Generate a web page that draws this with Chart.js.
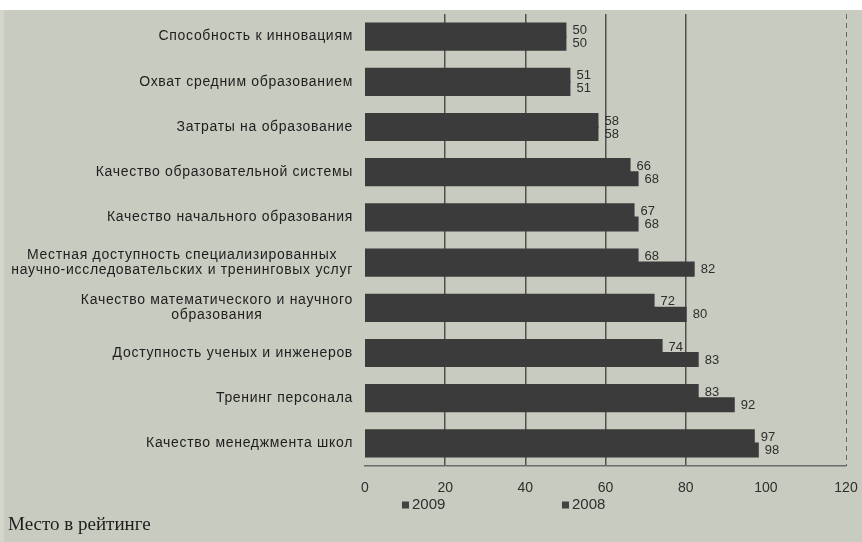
<!DOCTYPE html>
<html>
<head>
<meta charset="utf-8">
<script src="https://cdn.jsdelivr.net/npm/chart.js@4/dist/chart.umd.min.js"></script>
<style>
  html, body { margin: 0; padding: 0; background: #ffffff; }
  #wrap { position: relative; width: 862px; height: 542px; }
  canvas { display: block; }
</style>
</head>
<body>
<div id="wrap"><canvas id="rankChart" width="862" height="542"></canvas></div>
<script>
// категории (сверху вниз)
const categories = [
    "Способность к инновациям",
    "Охват средним образованием",
    "Затраты на образование",
    "Качество образовательной системы",
    "Качество начального образования",
    ["Местная доступность специализированных", "научно-исследовательских и тренинговых услуг"],
    ["Качество математического и научного", "образования"],
    "Доступность ученых и инженеров",
    "Тренинг персонала",
    "Качество менеджмента школ"
];
const rank2009 = [50, 51, 58, 66, 67, 68, 72, 74, 83, 97];
const rank2008 = [50, 51, 58, 68, 68, 82, 80, 83, 92, 98];
const xTicks = [0, 20, 40, 60, 80, 100, 120];
const seriesNames = ["2009", "2008"];
const footerText = "Место в рейтинге";

const BG = "#c8cbc0";
const BAR = "#3b3b3b";
const TEXT = "#1e1e1e";

// фон, подписи категорий, значения, легенда
const decorPlugin = {
    id: "decor",
    beforeDraw(chart) {
        const { ctx, width, height } = chart;
        ctx.save();
        ctx.fillStyle = "#ffffff";
        ctx.fillRect(0, 0, width, height);
        ctx.fillStyle = BG;
        ctx.fillRect(0, 10, width, height - 10);
        ctx.fillStyle = "#d4d6cd";
        ctx.fillRect(0, 10, 4, height - 10);
        ctx.restore();
    },
    afterDraw(chart) {
        const { ctx } = chart;
        const xs = chart.scales.x;
        const ys = chart.scales.y;
        ctx.save();

        // правая пунктирная граница на 120
        const xr = xs.getPixelForValue(120);
        ctx.strokeStyle = "#666";
        ctx.lineWidth = 1;
        ctx.setLineDash([5, 4]);
        ctx.beginPath();
        ctx.moveTo(xr + 0.5, chart.chartArea.top);
        ctx.lineTo(xr + 0.5, chart.chartArea.bottom);
        ctx.stroke();
        ctx.setLineDash([]);

        // подписи категорий
        ctx.fillStyle = TEXT;
        ctx.font = "14px 'Liberation Sans', Arial, sans-serif";
        ctx.letterSpacing = "0.7px";
        ctx.textBaseline = "middle";
        ctx.textAlign = "center";
        const rightEdge = 353;
        categories.forEach((lab, i) => {
            const lines = Array.isArray(lab) ? lab : [lab];
            const w = Math.max(...lines.map(l => ctx.measureText(l).width));
            const cx = rightEdge - w / 2;
            const y0 = ys.getPixelForValue(i) - (lines.length - 1) * 7.5;
            lines.forEach((l, j) => ctx.fillText(l, cx, y0 + j * 15));
        });
        ctx.letterSpacing = "0px";

        // значения у концов столбцов
        ctx.font = "13px 'Liberation Sans', Arial, sans-serif";
        ctx.textAlign = "left";
        ctx.fillStyle = "#2e2e2e";
        chart.data.datasets.forEach((ds, di) => {
            chart.getDatasetMeta(di).data.forEach((bar, i) => {
                ctx.fillText(String(ds.data[i]), bar.x + 7, bar.y + 0.5);
            });
        });

        // легенда
        ctx.font = "15px 'Liberation Sans', Arial, sans-serif";
        const legendX = [402, 562];
        const legendY = 505;
        chart.data.datasets.forEach((ds, di) => {
            ctx.fillStyle = "#444";
            ctx.fillRect(legendX[di], legendY - 3.5, 7, 7);
            ctx.fillStyle = "#2e2e2e";
            ctx.fillText(ds.label, legendX[di] + 10, legendY);
        });

        // подпись снизу
        ctx.fillStyle = "#1e1e1e";
        ctx.font = "19px 'Liberation Serif', 'DejaVu Serif', serif";
        ctx.textBaseline = "alphabetic";
        ctx.fillText(footerText, 8, 530);
        ctx.restore();
    }
};

new Chart(document.getElementById("rankChart"), {
    type: "bar",
    data: {
        labels: categories,
        datasets: [
            {
                label: seriesNames[0],
                data: rank2009,
                backgroundColor: BAR,
                borderWidth: 0,
                inflateAmount: 1,
                categoryPercentage: 0.58,
                barPercentage: 1.0
            },
            {
                label: seriesNames[1],
                data: rank2008,
                backgroundColor: BAR,
                borderWidth: 0,
                inflateAmount: 1,
                categoryPercentage: 0.58,
                barPercentage: 1.0
            }
        ]
    },
    options: {
        indexAxis: "y",
        responsive: false,
        animation: false,
        layout: { padding: { top: 14, right: 16, left: 0, bottom: 0 } },
        plugins: {
            legend: { display: false },
            tooltip: { enabled: false }
        },
        scales: {
            x: {
                min: 0,
                max: 120,
                afterBuildTicks: (scale) => { scale.ticks = xTicks.map(v => ({ value: v })); },
                afterFit: (scale) => {
                    scale.height = 76;
                    scale.paddingLeft = 0;
                    scale.paddingRight = 0;
                },
                grid: {
                    drawTicks: false,
                    lineWidth: 1.5,
                    color: (c) => (c.tick && c.tick.value > 0 && c.tick.value < 100) ? "#505050" : "transparent"
                },
                border: { display: true, color: "#6a6a6a", width: 1.5 },
                ticks: {
                    padding: 14,
                    color: "#2e2e2e",
                    font: { family: "'Liberation Sans', Arial, sans-serif", size: 14 }
                }
            },
            y: {
                afterFit: (scale) => { scale.width = 365; },
                grid: { display: false },
                border: { display: false },
                ticks: { display: false }
            }
        }
    },
    plugins: [decorPlugin]
});
</script>
</body>
</html>
